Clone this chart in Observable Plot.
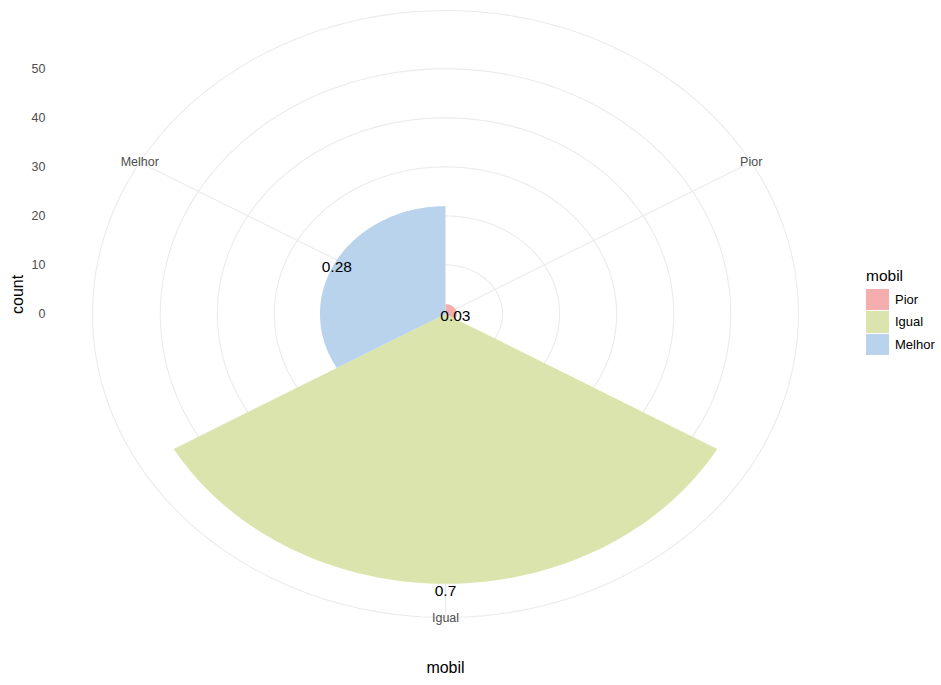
<!DOCTYPE html>
<html>
<head>
<meta charset="utf-8">
<script src="https://cdn.jsdelivr.net/npm/d3@7"></script>
<script src="https://cdn.jsdelivr.net/npm/@observablehq/plot@0.6"></script>
<style>
  body { margin: 0; background: #fff; font-family: "Liberation Sans", Arial, Helvetica, sans-serif; }
  #wrap { position: relative; width: 941px; height: 685px; }
  #legend { position: absolute; left: 866px; top: 267px; color: #000; }
  #legend .title { font-size: 15.5px; margin-bottom: 3px; }
  #legend .row { display: flex; align-items: center; height: 22.5px; }
  #legend .key { width: 23px; height: 21.5px; margin-right: 6px; }
  #legend .lab { font-size: 13px; }
</style>
</head>
<body>
<div id="wrap"><div id="chart"></div><div id="legend"></div></div>
<script>
// ---- data ----
const categories = ["Pior", "Igual", "Melhor"];
const counts = [2, 55, 22];
const colors = ["#F5AEAE", "#DAE4AC", "#B9D3EC"];
const radialTicks = [0, 10, 20, 30, 40, 50];
const xTitle = "mobil";
const yTitle = "count";

// ---- derived (polar geometry, theta = category) ----
const total = d3.sum(counts);
const n = categories.length;
const rMax = d3.max(counts) / 0.4 * 0.45; // ggplot outer ring
const pt = (theta, r) => ({x: r * Math.sin(theta), y: r * Math.cos(theta)});
const cats = categories.map((c, i) => {
  const t0 = i / n * 2 * Math.PI, t1 = (i + 1) / n * 2 * Math.PI, tm = (t0 + t1) / 2;
  const p = counts[i] / total;
  return {cat: c, count: counts[i], t0, t1, tm,
    lab: String(Math.round(p * 100) / 100),
    vx: pt(tm, counts[i]).x, vy: pt(tm, counts[i]).y,
    ox: pt(tm, rMax).x, oy: pt(tm, rMax).y,
    cx: pt(tm, 0).x, cy: pt(tm, 0).y};
});
const wedgePts = [];
cats.forEach(d => {
  wedgePts.push({cat: d.cat, ...pt(d.t0, 0)});
  const steps = 80;
  for (let k = 0; k <= steps; k++) {
    const t = d.t0 + (d.t1 - d.t0) * k / steps;
    wedgePts.push({cat: d.cat, ...pt(t, d.count)});
  }
  wedgePts.push({cat: d.cat, ...pt(d.t1, 0)});
});
const gridPts = [];
radialTicks.filter(r => r > 0).concat([rMax]).forEach(r => {
  for (let k = 0; k <= 180; k++) gridPts.push({r, ...pt(k / 180 * 2 * Math.PI, r)});
});

const chart = Plot.plot({
  width: 850,
  height: 685,
  marginLeft: 92,
  marginRight: 52,
  marginTop: 10,
  marginBottom: 68,
  style: {fontFamily: "Liberation Sans, Arial, Helvetica, sans-serif", fontSize: "12px", background: "#fff"},
  x: {domain: [-rMax, rMax], axis: null},
  y: {domain: [-rMax, rMax], axis: null},
  color: {domain: categories, range: colors},
  marks: [
    Plot.line(gridPts, {x: "x", y: "y", z: "r", stroke: "#EBEBEB", strokeWidth: 1.1}),
    Plot.link(cats, {x1: "cx", y1: "cy", x2: "ox", y2: "oy", stroke: "#EBEBEB", strokeWidth: 1.1}),
    Plot.line(wedgePts, {x: "x", y: "y", z: "cat", fill: "cat", stroke: null}),
    Plot.text(cats, {x: "ox", y: "oy", text: "cat", fill: "#4D4D4D", fontSize: 12.5}),
    Plot.text(cats, {x: "vx", y: "vy", text: "lab", fill: "#000", fontSize: 15.5, dy: 7}),
    Plot.text(radialTicks, {y: d => d, text: d => String(d), frameAnchor: "left", textAnchor: "end", dx: -47, fill: "#4D4D4D", fontSize: 12.5}),
    Plot.text([yTitle], {frameAnchor: "left", rotate: -90, dx: -75, fontSize: 16, fill: "#000"}),
    Plot.text([xTitle], {frameAnchor: "bottom", dy: 55, fontSize: 16, fill: "#000"})
  ]
});
document.getElementById("chart").appendChild(chart);

// ---- legend ----
const colorScale = chart.scale("color");
const leg = document.getElementById("legend");
const title = document.createElement("div");
title.className = "title";
title.textContent = xTitle;
leg.appendChild(title);
colorScale.domain.forEach((c, i) => {
  const row = document.createElement("div");
  row.className = "row";
  const key = document.createElement("div");
  key.className = "key";
  key.style.background = colorScale.range[i];
  const lab = document.createElement("span");
  lab.className = "lab";
  lab.textContent = c;
  row.appendChild(key);
  row.appendChild(lab);
  leg.appendChild(row);
});
</script>
</body>
</html>
